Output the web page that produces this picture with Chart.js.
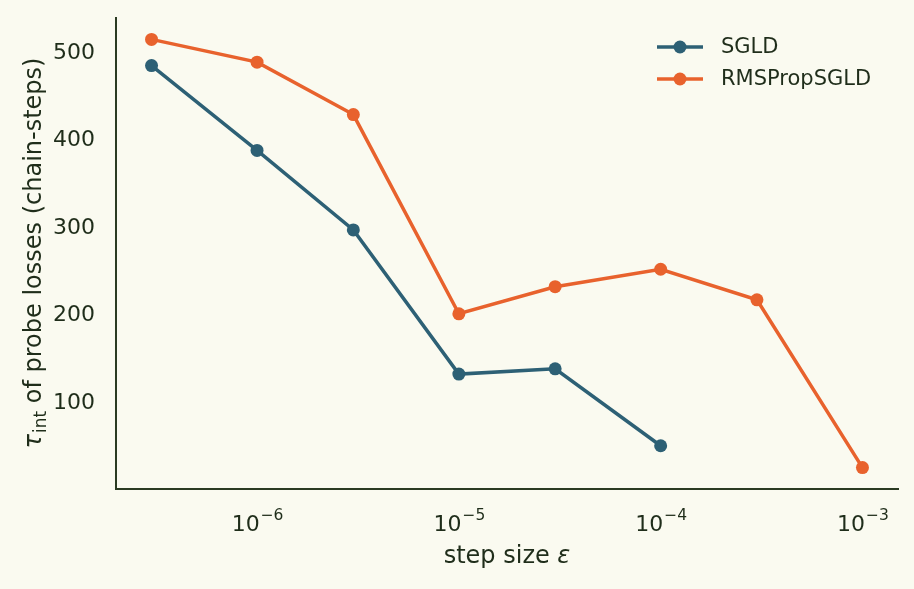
<!DOCTYPE html>
<html>
<head>
<meta charset="utf-8">
<script src="https://cdn.jsdelivr.net/npm/chart.js@4"></script>
<style>
  html, body { margin: 0; padding: 0; background: #fafaf0; }
  #wrap { width: 914px; height: 589px; }
</style>
</head>
<body>
<div id="wrap"><canvas id="chart" width="914" height="589"></canvas></div>
<script>
const stepSizes = [3e-7, 1e-6, 3e-6, 1e-5, 3e-5, 1e-4, 3e-4, 1e-3];
const sgldTau = [486, 389, 298, 133, 139, 51, null, null];
const rmspropTau = [516, 490, 430, 202, 233, 253, 218, 26];
const seriesNames = ['SGLD', 'RMSPropSGLD'];
const seriesColors = ['#2d6075', '#e8622d'];
const xTickValues = [1e-6, 1e-5, 1e-4, 1e-3];
const xTickExponents = ['\u22126', '\u22125', '\u22124', '\u22123'];
const yTickValues = [100, 200, 300, 400, 500];

const textColor = '#1f2d1a';
const spineColor = '#2a3a22';
const fontFamily = '"DejaVu Sans", sans-serif';

function toPoints(values) {
  const pts = [];
  stepSizes.forEach((x, i) => {
    if (values[i] != null) pts.push({ x: x, y: values[i] });
  });
  return pts;
}

const overlay = {
  id: 'overlay',
  afterDraw(chart) {
    const ctx = chart.ctx;
    const area = chart.chartArea;
    const xs = chart.scales.x;
    ctx.save();
    ctx.fillStyle = textColor;
    ctx.textBaseline = 'alphabetic';
    ctx.textAlign = 'left';

    // x tick labels as 10^n
    xTickValues.forEach((v, i) => {
      const px = xs.getPixelForValue(v);
      ctx.font = '22px ' + fontFamily;
      const baseW = ctx.measureText('10').width;
      ctx.font = '15.5px ' + fontFamily;
      const expW = ctx.measureText(xTickExponents[i]).width;
      const left = px - (baseW + expW) / 2;
      ctx.font = '22px ' + fontFamily;
      ctx.fillText('10', left, 531);
      ctx.font = '15.5px ' + fontFamily;
      ctx.fillText(xTickExponents[i], left + baseW + 1, 520);
    });

    // x axis title
    ctx.font = '24px ' + fontFamily;
    const t1 = 'step size ';
    const w1 = ctx.measureText(t1).width;
    ctx.font = 'italic 24px ' + fontFamily;
    const w2 = ctx.measureText('\u03b5').width;
    const cx = (area.left + area.right) / 2;
    const sx = cx - (w1 + w2) / 2;
    ctx.font = '24px ' + fontFamily;
    ctx.fillText(t1, sx, 563);
    ctx.font = 'italic 24px ' + fontFamily;
    ctx.fillText('\u03b5', sx + w1, 563);

    // y axis title (rotated)
    ctx.save();
    const cy = (area.top + area.bottom) / 2;
    ctx.translate(41, cy);
    ctx.rotate(-Math.PI / 2);
    ctx.font = 'italic 24px ' + fontFamily;
    const tau = '\u03c4';
    const tauW = ctx.measureText(tau).width;
    ctx.font = '17px ' + fontFamily;
    const subW = ctx.measureText('int').width;
    ctx.font = '24px ' + fontFamily;
    const rest = ' of probe losses (chain-steps)';
    const restW = ctx.measureText(rest).width;
    const x0 = -(tauW + subW + restW) / 2;
    ctx.font = 'italic 24px ' + fontFamily;
    ctx.fillText(tau, x0, 0);
    ctx.font = '17px ' + fontFamily;
    ctx.fillText('int', x0 + tauW + 1, 5);
    ctx.font = '24px ' + fontFamily;
    ctx.fillText(rest, x0 + tauW + subW + 1, 0);
    ctx.restore();

    // legend
    const legendX = 657;
    const legendY = [47, 79];
    chart.data.datasets.forEach((ds, i) => {
      const y = legendY[i];
      ctx.strokeStyle = ds.borderColor;
      ctx.lineWidth = 3.5;
      ctx.lineCap = 'butt';
      ctx.beginPath();
      ctx.moveTo(legendX, y);
      ctx.lineTo(legendX + 46, y);
      ctx.stroke();
      ctx.fillStyle = ds.borderColor;
      ctx.beginPath();
      ctx.arc(legendX + 23, y, 6.5, 0, Math.PI * 2);
      ctx.fill();
      ctx.fillStyle = textColor;
      ctx.font = '21px ' + fontFamily;
      ctx.textBaseline = 'middle';
      ctx.fillText(ds.label, 721, y + 1);
    });
    ctx.restore();
  }
};

new Chart(document.getElementById('chart'), {
  type: 'line',
  data: {
    datasets: [
      {
        label: seriesNames[0],
        data: toPoints(sgldTau),
        borderColor: seriesColors[0],
        backgroundColor: seriesColors[0],
        borderWidth: 3.5,
        pointRadius: 6.5,
        pointBorderWidth: 0,
        pointHoverRadius: 6.5,
        tension: 0,
      },
      {
        label: seriesNames[1],
        data: toPoints(rmspropTau),
        borderColor: seriesColors[1],
        backgroundColor: seriesColors[1],
        borderWidth: 3.5,
        pointRadius: 6.5,
        pointBorderWidth: 0,
        pointHoverRadius: 6.5,
        tension: 0,
      },
    ],
  },
  options: {
    responsive: false,
    animation: false,
    layout: { padding: { left: 0, top: 18, right: 16, bottom: 0 } },
    plugins: {
      legend: { display: false },
      tooltip: { enabled: false },
    },
    scales: {
      x: {
        type: 'logarithmic',
        min: 2e-7,
        max: 1.5e-3,
        grid: { display: false, drawTicks: false },
        border: { display: true, color: spineColor, width: 2 },
        ticks: { display: false },
        afterFit(scale) {
          scale.height = 100;
          scale.paddingLeft = 0;
          scale.paddingRight = 0;
        },
      },
      y: {
        type: 'linear',
        min: 1.5,
        max: 540.5,
        grid: { display: false, drawTicks: false },
        border: { display: true, color: spineColor, width: 2 },
        afterBuildTicks(scale) { scale.ticks = yTickValues.map((v) => ({ value: v })); },
        ticks: {
          color: textColor,
          font: { family: fontFamily, size: 22 },
          padding: 21,
        },
        afterFit(scale) {
          scale.width = 116;
          scale.paddingTop = 0;
          scale.paddingBottom = 0;
        },
      },
    },
  },
  plugins: [overlay],
});
</script>
</body>
</html>
